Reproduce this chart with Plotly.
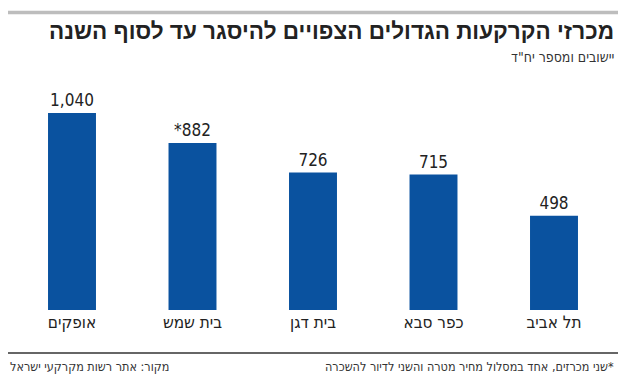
import plotly.graph_objects as go

categories = ["אופקים", "בית שמש", "בית דגן", "כפר סבא", "תל אביב"]
values = [1040, 882, 726, 715, 498]
value_labels = ["1,040", "*882", "726", "715", "498"]

title = "מכרזי הקרקעות הגדולים הצפויים להיסגר עד לסוף השנה"
subtitle = 'יישובים ומספר יח"ד'
note = "\u200F*שני מכרזים, אחד במסלול מחיר מטרה והשני לדיור להשכרה"
source = "מקור: אתר רשות מקרקעי ישראל"

W, H = 627, 388
T, B = 70, 78
PH = H - T - B  # plot height 240
BASE = H - B    # 310

def py(y):
    return (BASE - y) / PH

narrow = "Liberation Sans Narrow, DejaVu Sans Condensed, sans-serif"

fig = go.Figure(go.Bar(
    x=categories, y=values, text=value_labels,
    textposition="outside", cliponaxis=False,
    textfont=dict(family=narrow, size=17, color="#222"),
    marker=dict(color="#0a529f", line=dict(width=0)),
    width=0.398,
))

fig.update_layout(
    width=W, height=H,
    margin=dict(l=0, r=0, t=T, b=B, pad=0),
    paper_bgcolor="white", plot_bgcolor="white",
    showlegend=False,
    xaxis=dict(type="category", range=[-72/120.5, (W-72)/120.5],
               showgrid=False, zeroline=False, showline=False, ticks="",
               tickfont=dict(family=narrow, size=17, color="#222")),
    yaxis=dict(range=[0, PH/0.1894], visible=False),
    shapes=[
        dict(type="line", xref="paper", yref="paper", x0=8/W, x1=618/W,
             y0=py(12.5), y1=py(12.5), line=dict(color="#bdbdbd", width=3.5)),
        dict(type="line", xref="paper", yref="paper", x0=8/W, x1=618/W,
             y0=py(353), y1=py(353), line=dict(color="#333", width=1.5)),
    ],
    annotations=[
        dict(text="<b>" + title + "</b>", xref="paper", yref="paper", x=616/W, y=py(32),
             xanchor="right", yanchor="middle", showarrow=False,
             font=dict(family="Liberation Sans, DejaVu Sans, sans-serif", size=22.5, color="#222")),
        dict(text=subtitle, xref="paper", yref="paper", x=616/W, y=py(57),
             xanchor="right", yanchor="middle", showarrow=False,
             font=dict(family=narrow, size=14, color="#333")),
        dict(text=note, xref="paper", yref="paper", x=616/W, y=py(366),
             xanchor="right", yanchor="middle", showarrow=False,
             font=dict(family=narrow, size=12.5, color="#333")),
        dict(text=source, xref="paper", yref="paper", x=8/W, y=py(366),
             xanchor="left", yanchor="middle", showarrow=False,
             font=dict(family=narrow, size=12.5, color="#333")),
    ],
)

fig.write_html("out.html", config={"displayModeBar": False},
               post_script="document.body.style.margin='0';")
